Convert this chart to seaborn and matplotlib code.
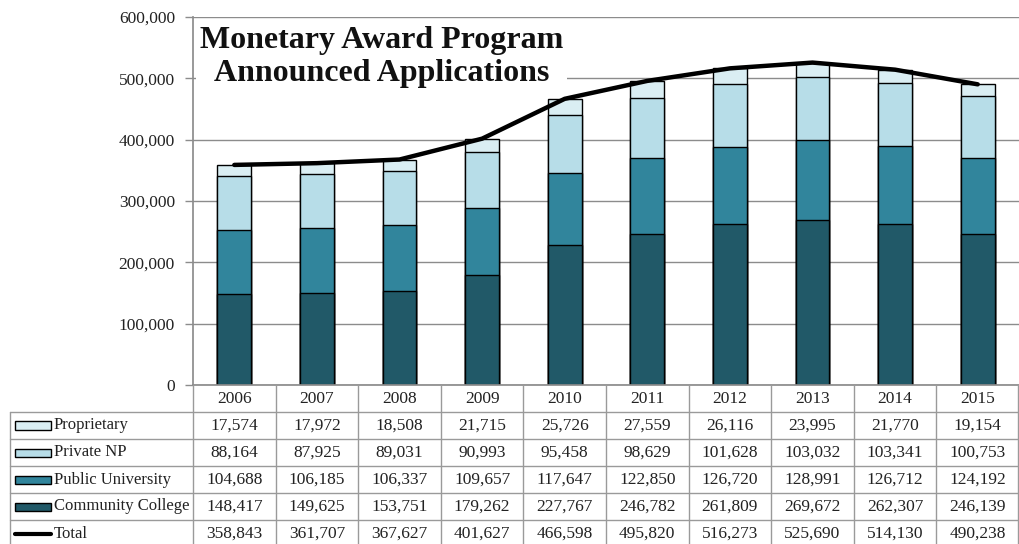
import matplotlib
matplotlib.use("Agg")
import matplotlib.pyplot as plt
import seaborn as sns
import numpy as np
import pandas as pd
from matplotlib.patches import Rectangle
from matplotlib.ticker import FuncFormatter

years = ["2006", "2007", "2008", "2009", "2010", "2011", "2012", "2013", "2014", "2015"]
proprietary = [17574, 17972, 18508, 21715, 25726, 27559, 26116, 23995, 21770, 19154]
private_np = [88164, 87925, 89031, 90993, 95458, 98629, 101628, 103032, 103341, 100753]
public_univ = [104688, 106185, 106337, 109657, 117647, 122850, 126720, 128991, 126712, 124192]
community = [148417, 149625, 153751, 179262, 227767, 246782, 261809, 269672, 262307, 246139]
total = [358843, 361707, 367627, 401627, 466598, 495820, 516273, 525690, 514130, 490238]

series_names = ["Proprietary", "Private NP", "Public University", "Community College"]
series_vals = [proprietary, private_np, public_univ, community]
colors = ["#DAEEF3", "#B7DDE8", "#31859C", "#215968"]

title_lines = ["Monetary Award Program", "Announced Applications"]

sns.set_theme(style="white")
plt.rcParams['font.family'] = ['Liberation Serif', 'DejaVu Serif']

W, H = 1019, 544
fig = plt.figure(figsize=(W / 100, H / 100), dpi=100)

# main axes
ax_l, ax_r, ax_t, ax_b = 193, 1019, 17, 385
ax = fig.add_axes([ax_l / W, 1 - ax_b / H, (ax_r - ax_l) / W, (ax_b - ax_t) / H])

df = pd.DataFrame({"year": years, "Proprietary": proprietary, "Private NP": private_np,
                   "Public University": public_univ, "Community College": community})
stack_order = ["Community College", "Public University", "Private NP", "Proprietary"]
cum = np.zeros(len(years))
cums = {}
for name in stack_order:
    cum = cum + df[name].values
    cums[name] = cum.copy()
for name in reversed(stack_order):
    c = colors[series_names.index(name)]
    sns.barplot(x=df["year"], y=cums[name], color=c, edgecolor="black", linewidth=1.0,
                width=0.41, ax=ax, saturation=1, zorder=2)

sns.lineplot(x=np.arange(len(years)), y=total, color="black", linewidth=3.2, ax=ax, zorder=4)

ax.set_xlim(-0.5, len(years) - 0.5)
ax.set_ylim(0, 600000)
ax.set_yticks(np.arange(0, 600001, 100000))
ax.yaxis.set_major_formatter(FuncFormatter(lambda v, p: f"{int(v):,}"))
ax.set_xticks([])
ax.set_xlabel("")
ax.set_ylabel("")
ax.grid(axis="y", color="#8c8c8c", linewidth=1.0, zorder=0)
ax.set_axisbelow(True)
for s in ["top", "right"]:
    ax.spines[s].set_visible(False)
ax.spines["left"].set_color("#8c8c8c")
ax.spines["bottom"].set_color("#8c8c8c")
ax.tick_params(axis="y", length=6, width=1, color="#8c8c8c", pad=7, labelsize=12.5,
               labelcolor="#222222", left=True)

# title with white box
ax.text(0.0085, 0.975, title_lines[0] + "\n" + title_lines[1], transform=ax.transAxes,
        ha="left", va="top", fontsize=23, fontweight="bold", color="#111111",
        linespacing=1.18, multialignment="center", zorder=10,
        bbox=dict(facecolor="white", edgecolor="none", pad=3))

# table axes
tb_l, tb_r = 10, 1019
tb_h = H - ax_b
tax = fig.add_axes([tb_l / W, 0, (tb_r - tb_l) / W, tb_h / H])
colw = (ax_r - ax_l) / len(years)
lab_units = (ax_l - tb_l) / colw
x0 = -0.5 - lab_units
tax.set_xlim(x0, len(years) - 0.5)
tax.set_ylim(tb_h, 0)
tax.axis("off")
grid_c = "#9a9a9a"
rows = [0, 26.7, 54, 81, 108, 135, 162]
for i, y in enumerate(rows[1:-1]):
    tax.plot([x0, len(years) - 0.5], [y, y], color=grid_c, lw=1, clip_on=False)
for k in range(len(years) + 1):
    xx = -0.5 + k
    if k == len(years):
        xx -= 0.012
    tax.plot([xx, xx], [0, tb_h], color=grid_c, lw=1, clip_on=False)
tax.plot([x0 + 0.005, x0 + 0.005], [rows[1], tb_h], color=grid_c, lw=1, clip_on=False)

fs_lab = 12
fs_num = 12.5
for i, yname in enumerate(years):
    tax.text(i, (rows[0] + rows[1]) / 2 + 1, yname, ha="center", va="center",
             fontsize=fs_num, color="#222222")

row_labels = series_names + ["Total"]
row_vals = series_vals + [total]
sw_l = x0 + 5 / colw
sw_r = x0 + 41 / colw
for r, (lab, vals) in enumerate(zip(row_labels, row_vals)):
    yc = (rows[r + 1] + rows[r + 2]) / 2
    if lab == "Total":
        tax.plot([sw_l, sw_r], [yc, yc], color="black", lw=3, solid_capstyle="round")
    else:
        tax.add_patch(Rectangle((sw_l, yc - 4), sw_r - sw_l, 8.5, facecolor=colors[r],
                                edgecolor="black", lw=1))
    tax.text(x0 + 44 / colw, yc, lab, ha="left", va="center", fontsize=fs_lab, color="#222222")
    for i, v in enumerate(vals):
        tax.text(i, yc, f"{v:,}", ha="center", va="center", fontsize=fs_num, color="#222222")

fig.savefig("out.png", dpi=100)
